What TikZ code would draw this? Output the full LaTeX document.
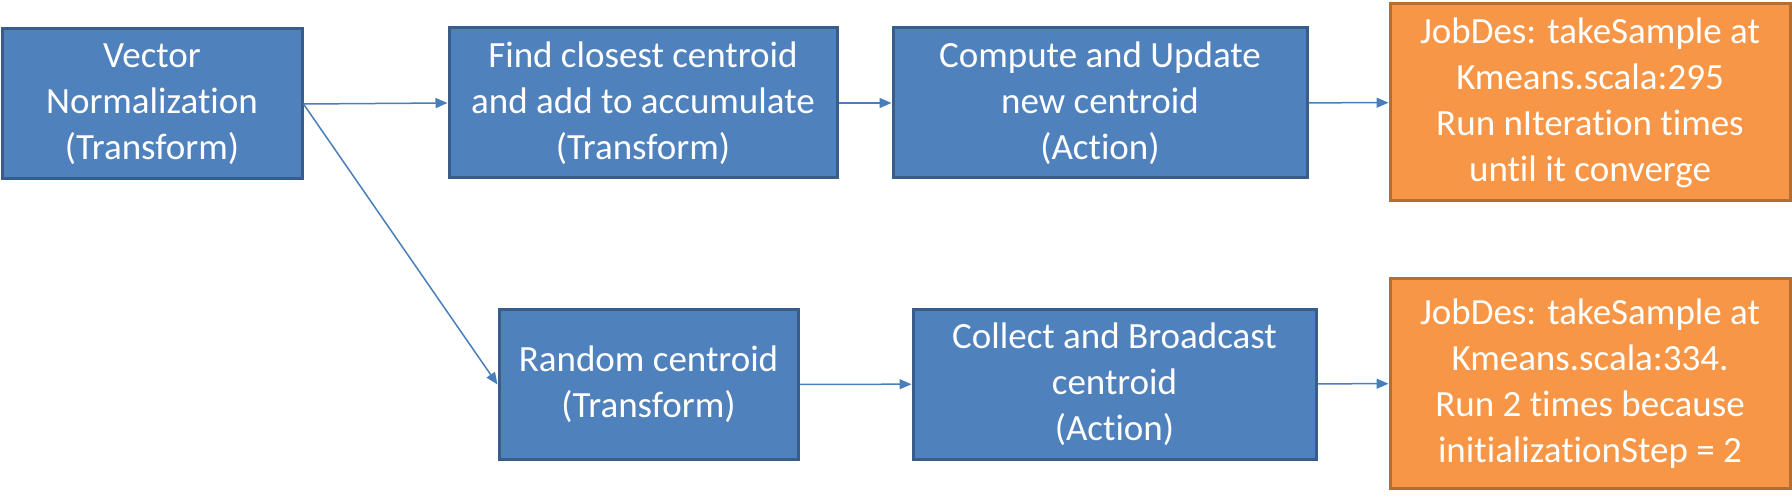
\documentclass[tikz,border=0pt]{standalone}
\usepackage{fontspec}
\setmainfont{Carlito}[Ligatures=NoCommon]
\definecolor{stageblue}{RGB}{79,129,189}
\definecolor{stageline}{RGB}{56,93,138}
\definecolor{joborange}{RGB}{247,150,70}
\definecolor{jobline}{RGB}{182,109,49}
\definecolor{arrowblue}{RGB}{74,126,187}
\usetikzlibrary{arrows.meta,positioning}

\begin{document}
\begin{tikzpicture}[
    x=1pt, y=-1pt,
    >={Triangle[length=12pt,width=10pt]},
    % Define styles
    stage/.style={rectangle, draw=stageline, line width=3pt, fill=stageblue, text=white, align=center, inner sep=0pt, minimum height=150pt},
    job/.style={rectangle, draw=jobline, line width=3pt, fill=joborange, text=white, align=center, inner sep=0pt, minimum width=400pt},
    arrow/.style={->, line width=1.5pt, arrowblue},
    % Font
    font=\fontsize{37}{46}\selectfont
]
\useasboundingbox (0,0) rectangle (1792,497);

% Upper row
\node[stage, minimum width=300pt] (norm) at (152, 104) {Vector\\Normalization\\(Transform)};
\node[stage, minimum width=388pt] (closest) at (643, 103) {Find closest centroid\\and add to accumulate\\(Transform)};
\node[stage, minimum width=414pt] (update) at (1100, 103) {Compute and Update\\new centroid\\(Action)};
\node[job, minimum height=197pt] (job1) at (1590, 102.5) {JobDes: takeSample at\\Kmeans.scala:295\\Run nIteration times\\until it converge};

% Lower row
\node[stage, minimum width=299pt] (random) at (648.5, 384.5) {Random centroid\\(Transform)};
\node[stage, minimum width=403pt] (collect) at (1114.5, 384) {Collect and Broadcast\\centroid\\(Action)};
\node[job, minimum height=209pt] (job2) at (1590, 383.5) {JobDes: takeSample at\\Kmeans.scala:334.\\Run 2 times because\\initializationStep = 2};

% Connections
\draw[arrow] (norm.east) -- (closest.west);
\draw[arrow] (norm.east) -- (random.west);
\draw[arrow] (closest) -- (update);
\draw[arrow] (update) -- (job1);
\draw[arrow] (random) -- (collect);
\draw[arrow] (collect) -- (job2);

\end{tikzpicture}
\end{document}
